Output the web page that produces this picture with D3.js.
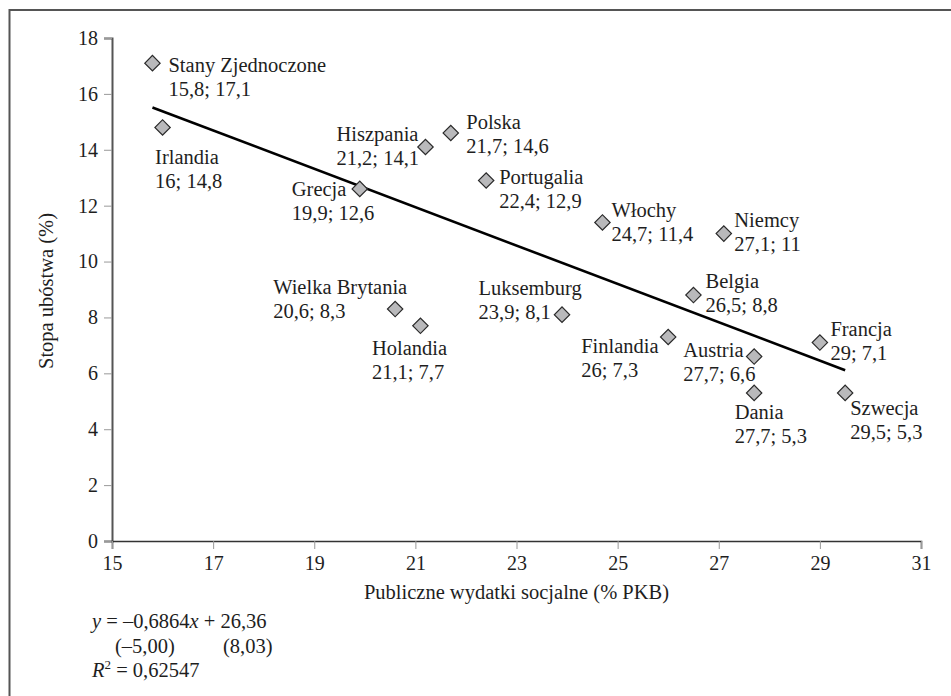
<!DOCTYPE html>
<html>
<head>
<meta charset="utf-8">
<script src="https://cdn.jsdelivr.net/npm/d3@7"></script>
<style>
  html, body { margin: 0; padding: 0; background: #fff; }
  svg { display: block; }
  svg text { font-family: "Liberation Serif", "DejaVu Serif", serif; fill: #1e1e1e; }
</style>
</head>
<body>
<svg id="chart" width="951" height="696"></svg>
<script>
// ---- data ----
const countries = ["Stany Zjednoczone","Irlandia","Hiszpania","Polska","Grecja","Portugalia","Włochy","Niemcy","Belgia","Francja","Finlandia","Austria","Dania","Szwecja","Wielka Brytania","Holandia","Luksemburg"];
const spending  = [15.8, 16, 21.2, 21.7, 19.9, 22.4, 24.7, 27.1, 26.5, 29, 26, 27.7, 27.7, 29.5, 20.6, 21.1, 23.9];
const poverty   = [17.1, 14.8, 14.1, 14.6, 12.6, 12.9, 11.4, 11, 8.8, 7.1, 7.3, 6.6, 5.3, 5.3, 8.3, 7.7, 8.1];
const xTicks = [15, 17, 19, 21, 23, 25, 27, 29, 31];
const yTicks = [0, 2, 4, 6, 8, 10, 12, 14, 16, 18];
const trendSlope = -0.6864;
const trendIntercept = 26.36;
const xTitle = "Publiczne wydatki socjalne (% PKB)";
const yTitle = "Stopa ubóstwa (%)";

// ---- layout (label offsets relative to marker, px) ----
const labelOffsets = {
  "Stany Zjednoczone": [16, 9],
  "Irlandia": [-7.5, 36.5],
  "Hiszpania": [-89, -6],
  "Polska": [15.5, -4],
  "Grecja": [-68, 7],
  "Portugalia": [13, 3],
  "Włochy": [9, -5],
  "Niemcy": [10.5, -7],
  "Belgia": [12, -7.5],
  "Francja": [10.5, -6.5],
  "Finlandia": [-87, 15.7],
  "Austria": [-71, 0],
  "Dania": [-19.5, 26.5],
  "Szwecja": [5, 22],
  "Wielka Brytania": [-122, -15],
  "Holandia": [-48.5, 29],
  "Luksemburg": [-83.5, -20]
};

const FONT = '"Liberation Serif", "DejaVu Serif", serif';
const svg = d3.select("#chart").attr("font-family", FONT);
const x = d3.scaleLinear().domain([15, 31]).range([112, 921]);
const y = d3.scaleLinear().domain([0, 18]).range([541, 38]);
const fmt = v => String(v).replace(".", ",");

// frame (only top and left visible)
svg.append("rect").attr("x", 9.5).attr("y", 10).attr("width", 980).attr("height", 720)
  .attr("fill", "none").attr("stroke", "#555").attr("stroke-width", 2);

// axes
const yAxis = svg.append("g").attr("transform", "translate(112,0)")
  .call(d3.axisLeft(y).tickValues(yTicks).tickSize(8).tickPadding(6).tickFormat(d => d));
yAxis.attr("font-family", FONT).attr("font-size", 20);
yAxis.select(".domain").attr("stroke", "#555").attr("stroke-width", 2);
yAxis.selectAll(".tick line").attr("stroke", "#999").attr("stroke-width", 1);
yAxis.selectAll(".tick text").attr("fill", "#1e1e1e");

const xAxis = svg.append("g").attr("transform", "translate(0,541)")
  .call(d3.axisBottom(x).tickValues(xTicks).tickSize(8).tickPadding(7).tickFormat(d => d));
xAxis.attr("font-family", FONT).attr("font-size", 20);
xAxis.select(".domain").attr("stroke", "#333").attr("stroke-width", 1.6);
xAxis.selectAll(".tick line").attr("stroke", "#999").attr("stroke-width", 1);
xAxis.selectAll(".tick text").attr("fill", "#1e1e1e");

// axis titles
svg.append("text").attr("x", (x(15) + x(31)) / 2).attr("y", 599)
  .attr("text-anchor", "middle").attr("font-size", 20.5).text(xTitle);
svg.append("text").attr("transform", "translate(53,291) rotate(-90)")
  .attr("text-anchor", "middle").attr("font-size", 20.5).text(yTitle);

// trend line
const xMin = d3.min(spending), xMax = d3.max(spending);
svg.append("line")
  .attr("x1", x(xMin)).attr("y1", y(trendSlope * xMin + trendIntercept))
  .attr("x2", x(xMax)).attr("y2", y(trendSlope * xMax + trendIntercept))
  .attr("stroke", "#000").attr("stroke-width", 2.6);

// points
const pts = countries.map((c, i) => ({ c, xv: spending[i], yv: poverty[i] }));
svg.append("g").selectAll("path").data(pts).join("path")
  .attr("transform", d => `translate(${x(d.xv)},${y(d.yv)}) rotate(45)`)
  .attr("d", d3.symbol().type(d3.symbolSquare).size(118))
  .attr("fill", "#b9b9bb").attr("stroke", "#2a2a2a").attr("stroke-width", 1.2);

// labels
const lab = svg.append("g").selectAll("text").data(pts).join("text")
  .attr("font-size", 20.5)
  .attr("x", d => x(d.xv) + labelOffsets[d.c][0])
  .attr("y", d => y(d.yv) + labelOffsets[d.c][1]);
lab.append("tspan").text(d => d.c);
lab.append("tspan").attr("x", d => x(d.xv) + labelOffsets[d.c][0]).attr("dy", 24)
  .text(d => `${fmt(d.xv)}; ${fmt(d.yv)}`);

// regression equation
const eq = svg.append("g").attr("font-size", 20.5);
const l1 = eq.append("text").attr("x", 92).attr("y", 628);
l1.append("tspan").attr("font-style", "italic").text("y");
l1.append("tspan").text(" = –" + fmt(Math.abs(trendSlope)));
l1.append("tspan").attr("font-style", "italic").text("x");
l1.append("tspan").text(" + " + fmt(trendIntercept));
eq.append("text").attr("x", 115).attr("y", 653).text("(–5,00)");
eq.append("text").attr("x", 223).attr("y", 653).text("(8,03)");
const l3 = eq.append("text").attr("x", 92).attr("y", 677);
l3.append("tspan").attr("font-style", "italic").text("R");
l3.append("tspan").attr("font-size", 13).attr("dy", -8).text("2");
l3.append("tspan").attr("dy", 8).text(" = 0,62547");
</script>
</body>
</html>
